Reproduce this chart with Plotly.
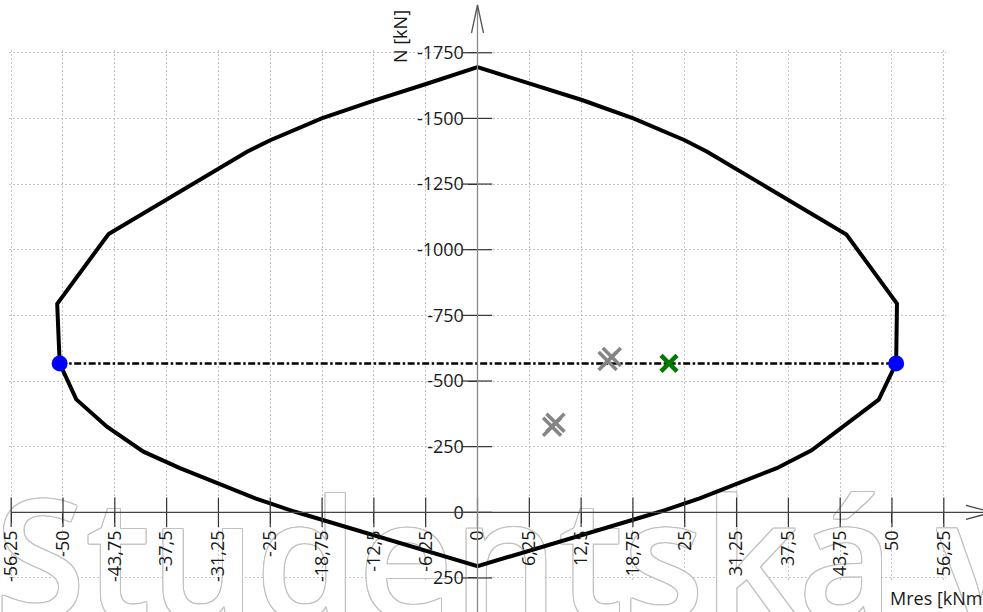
import plotly.graph_objects as go

# ---------------- data ----------------
# interaction diagram (Mres [kNm], N [kN]); compression negative (up)
curve_M = [0, 6.3, 12.6, 18.8, 25.0, 27.7, 44.5, 50.6, 50.5, 48.4, 44.1, 40.3, 36.1, 31.3, 26.8, 22.0, 0,
           -22.0, -26.8, -31.3, -35.9, -40.3, -44.7, -48.4, -50.4, -50.7, -44.5, -27.8, -25.0, -18.8, -12.6, -6.3, 0]
curve_N = [-1695, -1634, -1570, -1500, -1417, -1373, -1058, -795, -567, -429, -326, -236, -168, -110, -53, -2, 205,
           -2, -53, -110, -168, -231, -326, -430, -567, -794, -1060, -1373, -1417, -1500, -1567, -1630, -1695]

limit_M = [-50.4, 50.5]          # blue end points of the dash-dot line
limit_N = [-567, -567]

design_M = [23.1]                # green cross
design_N = [-567]

other_M = [15.7, 16.2, 9.0, 9.4]  # grey crosses
other_N = [-576, -591, -326, -341]

x_ticks = [-56.25, -50, -43.75, -37.5, -31.25, -25, -18.75, -12.5, -6.25, 0,
           6.25, 12.5, 18.75, 25, 31.25, 37.5, 43.75, 50, 56.25]
x_tick_labels = ["-56,25", "-50", "-43,75", "-37,5", "-31,25", "-25", "-18,75", "-12,5", "-6,25", "0",
                 "6,25", "12,5", "18,75", "25", "31,25", "37,5", "43,75", "50", "56,25"]
y_ticks = [-1750, -1500, -1250, -1000, -750, -500, -250, 0, 250]
y_tick_labels = ["-1750", "-1500", "-1250", "-1000", "-750", "-500", "-250", "0", "250"]

watermark = "Studentská v"

# ---------------- layout geometry ----------------
W, H = 983, 612
X0, XS = 477.5, 8.29      # pixel of M=0, px per kNm
Y0, YS = 512.3, 0.2626    # pixel of N=0, px per kN
x_range = [-56.5, 56.5]
y_range = [260, -1760]    # reversed: negative N up
x_dom = [(X0 + XS * x_range[0]) / W, (X0 + XS * x_range[1]) / W]
y_dom = [1 - (Y0 + YS * y_range[0]) / H, 1 - (Y0 + YS * y_range[1]) / H]
xaxis_pos = 1 - Y0 / H
yaxis_pos = X0 / W

FONT = "Open Sans"
TXT = "#1a1a1a"

fig = go.Figure()

# watermark: grey copies shifted by 1px around a white copy -> outlined letters
wm_x, wm_y = 3.9, 245
wm_font = dict(family=FONT, size=165, weight=600)
offsets = [(1, 0), (-1, 0), (0, 1), (0, -1), (1, 1), (-1, -1), (1, -1), (-1, 1), (0, 0)]
for dx, dy in offsets:
    col = "white" if (dx, dy) == (0, 0) else "#c0c0c0"
    fig.add_trace(go.Scatter(
        x=[wm_x + dx / XS], y=[wm_y + dy / YS], mode="text", text=[watermark],
        textposition="middle center", textfont=dict(color=col, **wm_font),
        cliponaxis=False, hoverinfo="skip", showlegend=False))

# interaction curve
fig.add_trace(go.Scatter(x=curve_M, y=curve_N, mode="lines",
                         line=dict(color="black", width=4), showlegend=False, hoverinfo="skip"))
# dash-dot line between limit points
fig.add_trace(go.Scatter(x=limit_M, y=limit_N, mode="lines",
                         line=dict(color="black", width=2.5, dash="7px,2.5px,2.5px,2.5px"),
                         showlegend=False, hoverinfo="skip"))
# grey crosses
fig.add_trace(go.Scatter(x=other_M, y=other_N, mode="markers",
                         marker=dict(symbol="x-thin", size=18, line=dict(color="#858585", width=3.5)),
                         showlegend=False, hoverinfo="skip"))
# green cross
fig.add_trace(go.Scatter(x=design_M, y=design_N, mode="markers",
                         marker=dict(symbol="x-thin", size=16, line=dict(color="#007a00", width=4.5)),
                         showlegend=False, hoverinfo="skip"))
# blue points
fig.add_trace(go.Scatter(x=limit_M, y=limit_N, mode="markers",
                         marker=dict(symbol="circle", size=16, color="#0000ff"),
                         showlegend=False, hoverinfo="skip"))
# tick marks crossing the axes
fig.add_trace(go.Scatter(x=x_ticks, y=[0] * len(x_ticks), mode="markers", cliponaxis=False,
                         marker=dict(symbol="line-ns", size=21, line=dict(color="#333333", width=1.2)),
                         showlegend=False, hoverinfo="skip"))
fig.add_trace(go.Scatter(x=[0] * len(y_ticks), y=y_ticks, mode="markers", cliponaxis=False,
                         marker=dict(symbol="line-ew", size=21, line=dict(color="#333333", width=1.2)),
                         showlegend=False, hoverinfo="skip"))

grid = dict(showgrid=True, gridcolor="#c4c4c4", griddash="2px,2px", gridwidth=1,
            zeroline=False, showline=False, ticks="outside", ticklen=10,
            tickcolor="#333333", tickwidth=1.2, automargin=False, ticklabeloverflow="allow",
            tickfont=dict(family=FONT, size=18, color=TXT), anchor="free")

fig.update_layout(
    template="none",
    width=W, height=H, margin=dict(l=0, r=0, t=0, b=0, pad=0),
    paper_bgcolor="white", plot_bgcolor="white", showlegend=False,
    xaxis=dict(range=x_range, domain=x_dom, position=xaxis_pos, tickmode="array",
               tickvals=x_ticks, ticktext=x_tick_labels, tickangle=-90, **grid),
    yaxis=dict(range=y_range, domain=y_dom, position=yaxis_pos, tickmode="array",
               tickvals=y_ticks, ticktext=y_tick_labels, **grid),
    shapes=[
        # x axis line + arrow
        dict(type="line", xref="paper", yref="y", x0=11 / W, x1=1.02, y0=0, y1=0,
             line=dict(color="#444444", width=1.3)),
        dict(type="path", xref="paper", yref="y",
             path=f"M {966 / W},{-7 / YS} L {992 / W},0 L {966 / W},{7 / YS}",
             line=dict(color="#444444", width=1.3)),
        # y axis line + arrow
        dict(type="line", xref="x", yref="paper", x0=0, x1=0, y0=0, y1=1 - 5 / H,
             line=dict(color="#888888", width=1.3)),
        dict(type="path", xref="x", yref="paper",
             path=f"M {-6 / XS},{1 - 33 / H} L 0,{1 - 5 / H} L {6 / XS},{1 - 33 / H}",
             line=dict(color="#555555", width=1.3)),
    ],
    annotations=[
        dict(text="N [kN]", xref="paper", yref="paper", x=400 / W, y=1 - 37 / H,
             xanchor="center", yanchor="middle",
             textangle=-90, showarrow=False, font=dict(family=FONT, size=18, color=TXT)),
        dict(text="Mres [kNm]", xref="paper", yref="paper", x=888 / W, y=1 - 598 / H,
             xanchor="left", yanchor="middle", showarrow=False,
             font=dict(family=FONT, size=18, color=TXT)),
    ],
)

fig.write_html("out.html", config={"displayModeBar": False},
               post_script="document.body.style.margin='0';document.body.style.padding='0';"
                           "document.body.style.overflow='hidden';")
